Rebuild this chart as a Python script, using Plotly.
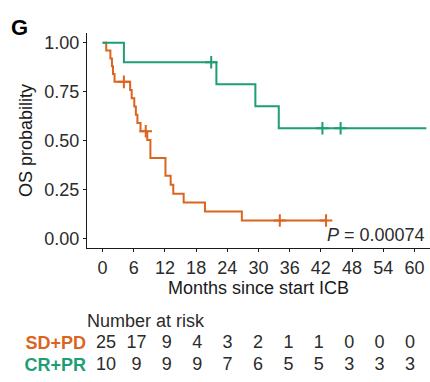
import plotly.graph_objects as go

# ---------------- data ----------------
sd_t = [0, 0.7, 1.5, 1.8, 2.0, 2.3, 5.3, 5.6, 6.1, 6.4, 6.7, 7.3, 8.6, 9.2,
        12.1, 13.1, 13.6, 15.6, 19.7, 26.8, 43.0]
sd_s = [1.0, 0.96, 0.92, 0.88, 0.84, 0.80, 0.758, 0.716, 0.674, 0.632, 0.589,
        0.547, 0.502, 0.411, 0.320, 0.274, 0.228, 0.183, 0.137, 0.091, 0.091]
sd_cens_t = [4.1, 8.3, 34.1, 43.0]
sd_cens_s = [0.80, 0.547, 0.091, 0.091]

cr_t = [0, 4.1, 21.9, 29.4, 33.9, 62.3]
cr_s = [1.0, 0.90, 0.788, 0.675, 0.5625, 0.5625]
cr_cens_t = [20.9, 42.3, 45.8]
cr_cens_s = [0.90, 0.5625, 0.5625]

risk_times = [0, 6, 12, 18, 24, 30, 36, 42, 48, 54, 60]
risk_sd = [25, 17, 9, 4, 3, 2, 1, 1, 0, 0, 0]
risk_cr = [10, 9, 9, 9, 7, 6, 5, 5, 3, 3, 3]

y_ticks = [0, 0.25, 0.5, 0.75, 1.0]
y_ticklabels = ["0.00", "0.25", "0.50", "0.75", "1.00"]
x_ticks = [0, 6, 12, 18, 24, 30, 36, 42, 48, 54, 60]

ORANGE = "#D9651E"
GREEN = "#1E9E75"
FONT = "Liberation Sans, Arial, sans-serif"
TXT = "#2b2b2b"
FS = 18

fig = go.Figure()

# KM curves
fig.add_trace(go.Scatter(x=sd_t, y=sd_s, mode="lines", line=dict(color=ORANGE, width=2, shape="hv"),
                         showlegend=False, hoverinfo="skip"))
fig.add_trace(go.Scatter(x=cr_t, y=cr_s, mode="lines", line=dict(color=GREEN, width=2, shape="hv"),
                         showlegend=False, hoverinfo="skip"))
# censor marks
fig.add_trace(go.Scatter(x=sd_cens_t, y=sd_cens_s, mode="markers",
                         marker=dict(symbol="cross-thin", size=9, line=dict(color=ORANGE, width=2)),
                         showlegend=False, hoverinfo="skip"))
fig.add_trace(go.Scatter(x=cr_cens_t, y=cr_cens_s, mode="markers",
                         marker=dict(symbol="cross-thin", size=9, line=dict(color=GREEN, width=2)),
                         showlegend=False, hoverinfo="skip"))

# risk table
fig.add_trace(go.Scatter(x=risk_times, y=[1.5] * len(risk_times), text=[str(v) for v in risk_sd],
                         mode="text", textfont=dict(size=FS, color=TXT, family=FONT),
                         xaxis="x2", yaxis="y2", showlegend=False, hoverinfo="skip"))
fig.add_trace(go.Scatter(x=risk_times, y=[0.5] * len(risk_times), text=[str(v) for v in risk_cr],
                         mode="text", textfont=dict(size=FS, color=TXT, family=FONT),
                         xaxis="x2", yaxis="y2", showlegend=False, hoverinfo="skip"))

H = 382
mt, mb = 33, 6
plot_h = H - mt - mb
main_bottom = (H - mb - 248) / plot_h


def py(pix):
    """pixel y (from top) -> paper fraction"""
    return (H - mb - pix) / plot_h


def px(pix):
    return (pix - 87) / 343


fig.update_layout(
    width=430, height=H,
    margin=dict(l=87, r=0, t=mt, b=mb),
    plot_bgcolor="white", paper_bgcolor="white",
    font=dict(family=FONT, color=TXT, size=FS),
    xaxis=dict(range=[-3, 63], tickvals=x_ticks, showgrid=False, zeroline=False,
               showline=True, linecolor="#1a1a1a", linewidth=1.3,
               ticks="outside", ticklen=3, tickcolor="#1a1a1a", tickwidth=1.2,
               tickfont=dict(size=FS, color=TXT),
               title=dict(text="Months since start ICB", font=dict(size=FS, color="#1a1a1a"), standoff=3),
               anchor="y"),
    yaxis=dict(range=[-0.05, 1.05], domain=[main_bottom, 1], tickvals=y_ticks, ticktext=y_ticklabels,
               showgrid=False, zeroline=False, showline=True, linecolor="#1a1a1a", linewidth=1.3,
               ticks="outside", ticklen=3, tickcolor="#1a1a1a", tickwidth=1.2,
               tickfont=dict(size=FS, color=TXT),
               title=dict(text="OS probability", font=dict(size=FS, color="#1a1a1a"), standoff=6),
               anchor="x"),
    xaxis2=dict(range=[-3.75, 63.95], domain=[0, 1], anchor="y2", visible=False),
    yaxis2=dict(range=[0, 2], domain=[0, 44 / plot_h], anchor="x2",
                tickvals=[0.5, 1.5],
                ticktext=[f"<span style='color:{GREEN}'><b>CR+PR</b></span>",
                          f"<span style='color:{ORANGE}'><b>SD+PD</b></span>"],
                tickfont=dict(size=FS), showgrid=False, zeroline=False, showline=False, ticks=""),
)

fig.add_annotation(x=62.5, y=0.015, xref="x", yref="y", xanchor="right", yanchor="middle",
                   text="<i>P</i> = 0.00074", showarrow=False, font=dict(size=FS, color=TXT))
fig.add_annotation(x=px(85), y=py(321), xref="paper", yref="paper", xanchor="left", yanchor="middle",
                   text="Number at risk", showarrow=False, font=dict(size=FS, color=TXT))
fig.add_annotation(x=px(9), y=py(13), xref="paper", yref="paper",
                   xanchor="left", yanchor="top", text="<b>G</b>", showarrow=False,
                   font=dict(size=22, color="black"))

fig.write_html("out.html")
